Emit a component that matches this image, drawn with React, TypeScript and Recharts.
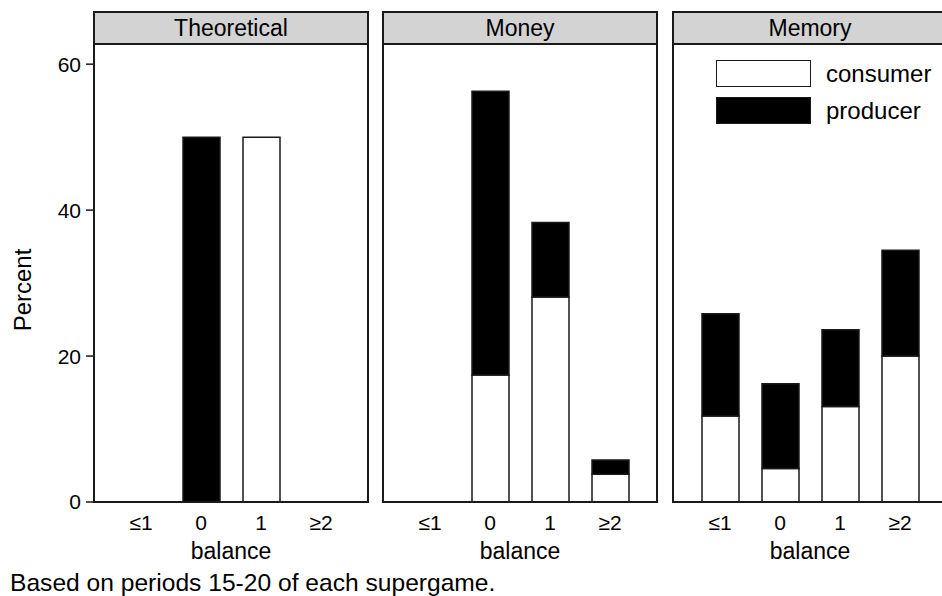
import React from 'react';
import { BarChart, Bar, XAxis, YAxis } from 'recharts';

const categories = ['≤1', '0', '1', '≥2'];
const theoreticalConsumer = [0, 0, 50, 0];
const theoreticalProducer = [0, 50, 0, 0];
const moneyConsumer = [0, 17.4, 28.1, 3.8];
const moneyProducer = [0, 38.9, 10.2, 1.95];
const memoryConsumer = [11.8, 4.6, 13.1, 20.0];
const memoryProducer = [14.0, 11.6, 10.5, 14.5];
const yTicks = [0, 20, 40, 60];
const panelTitles = ['Theoretical', 'Money', 'Memory'];
const seriesNames = ['consumer', 'producer'];
const footnote = 'Based on periods 15-20 of each supergame.';

const build = (cons: number[], prod: number[]) =>
  categories.map((c, i) => ({ balance: c, consumer: cons[i], producer: prod[i] }));

const panels = [
  { title: panelTitles[0], data: build(theoreticalConsumer, theoreticalProducer), left: 94 },
  { title: panelTitles[1], data: build(moneyConsumer, moneyProducer), left: 383 },
  { title: panelTitles[2], data: build(memoryConsumer, memoryProducer), left: 673 },
];

const FONT = '"Liberation Sans", Arial, Helvetica, sans-serif';
const PLOT_W = 274;
const PLOT_H = 459;
const PLOT_TOP = 43;
const XAXIS_H = 70;
const YAXIS_W = 94;
const STROKE = '#1a1a1a';

const LegendBox = () => (
  <div
    style={{
      position: 'absolute',
      left: 716,
      top: 55,
      fontFamily: FONT,
      fontSize: 24,
      color: '#000',
      pointerEvents: 'none',
    }}
  >
    {seriesNames.map((n, i) => (
      <div key={n} style={{ display: 'flex', alignItems: 'center', height: 37 }}>
        <div
          style={{
            width: 95,
            height: 27,
            boxSizing: 'border-box',
            border: `1.5px solid ${STROKE}`,
            background: i === 0 ? '#fff' : '#000',
            marginRight: 15,
          }}
        />
        <span>{n}</span>
      </div>
    ))}
  </div>
);

const PercentLabel = () => (
  <text
    x={22}
    y={247}
    transform="rotate(-90, 22, 247)"
    textAnchor="middle"
    dominantBaseline="central"
    fontSize={24}
    fill="#000"
    fontFamily={FONT}
  >
    Percent
  </text>
);

export default function App() {
  return (
    <div
      style={{
        position: 'absolute',
        left: 0,
        top: 0,
        width: 942,
        height: 596,
        overflow: 'hidden',
        background: '#fff',
        fontFamily: FONT,
      }}
    >
      {panels.map((p, idx) => {
        const first = idx === 0;
        const chartLeft = first ? p.left - YAXIS_W : p.left;
        const chartW = first ? PLOT_W + YAXIS_W : PLOT_W;
        return (
          <div
            key={p.title}
            style={{ position: 'absolute', left: chartLeft, top: PLOT_TOP, width: chartW, height: PLOT_H + XAXIS_H }}
          >
            <BarChart
              width={chartW}
              height={PLOT_H + XAXIS_H}
              data={p.data}
              margin={{ top: 0, right: 0, bottom: 0, left: 0 }}
              barSize={37}
            >
              <XAxis
                dataKey="balance"
                type="category"
                padding={{ left: 17, right: 17 }}
                height={XAXIS_H}
                tickLine={false}
                axisLine={false}
                tickSize={0}
                tickMargin={13}
                tick={{ fontSize: 21, fill: '#000', fontFamily: FONT }}
                interval={0}
                label={{ value: 'balance', position: 'insideBottom', offset: 13, fontSize: 23, fill: '#000', fontFamily: FONT }}
              />
              {first ? (
                <YAxis
                  width={YAXIS_W}
                  domain={[0, 62.9]}
                  ticks={yTicks}
                  allowDataOverflow
                  axisLine={false}
                  tickSize={8}
                  tickMargin={5}
                  tickLine={{ stroke: STROKE, strokeWidth: 1.5 }}
                  tick={{ fontSize: 21, fill: '#000', fontFamily: FONT }}
                  label={<PercentLabel />}
                />
              ) : (
                <YAxis hide domain={[0, 62.9]} allowDataOverflow />
              )}
              <Bar dataKey="consumer" stackId="a" fill="#fff" stroke={STROKE} strokeWidth={1.5} isAnimationActive={false} />
              <Bar dataKey="producer" stackId="a" fill="#000" stroke={STROKE} strokeWidth={1.5} isAnimationActive={false} />
            </BarChart>
          </div>
        );
      })}
      {panels.map((p) => (
        <React.Fragment key={p.title + '-frame'}>
          <div
            style={{
              position: 'absolute',
              left: p.left - 1,
              top: PLOT_TOP - 1,
              width: PLOT_W + 2,
              height: PLOT_H + 2,
              boxSizing: 'border-box',
              border: `2px solid ${STROKE}`,
              pointerEvents: 'none',
            }}
          />
          <div
            style={{
              position: 'absolute',
              left: p.left - 1,
              top: 11,
              width: PLOT_W + 2,
              height: 34,
              boxSizing: 'border-box',
              border: `2px solid ${STROKE}`,
              background: '#d3d3d3',
              display: 'flex',
              alignItems: 'center',
              justifyContent: 'center',
              fontSize: 23,
              color: '#000',
            }}
          >
            {p.title}
          </div>
        </React.Fragment>
      ))}
      <LegendBox />
      <div style={{ position: 'absolute', left: 10, top: 569, fontSize: 24.6, color: '#000', whiteSpace: 'nowrap' }}>
        {footnote}
      </div>
    </div>
  );
}
